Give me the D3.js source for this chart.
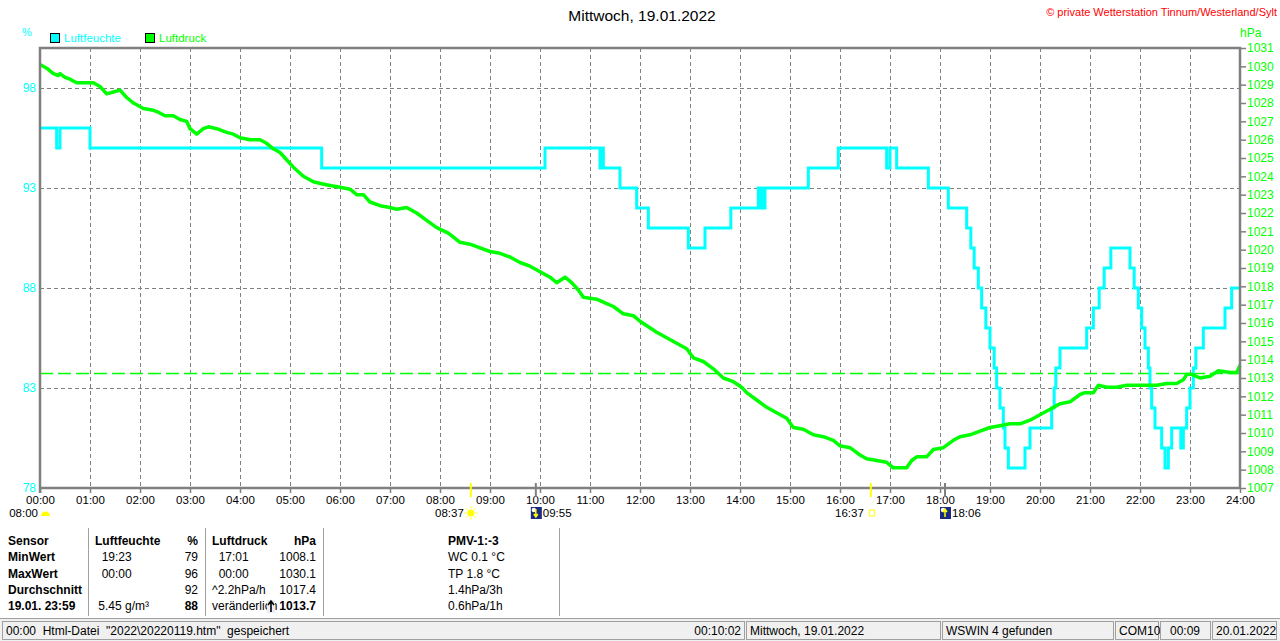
<!DOCTYPE html>
<html><head><meta charset="utf-8">
<script src="https://cdn.jsdelivr.net/npm/d3@7"></script>
<style>
body{margin:0;background:#fff;overflow:hidden}
svg{display:block;font-family:"Liberation Sans",Arial,sans-serif}
text{white-space:pre}
</style></head><body>
<svg width="1280" height="641"></svg>
<script>
// humidity (%) step series, time in minutes after midnight
const humTime = [0,20,24,60,338,606,672,674,676,696,716,730,778,798,829,862,864,866,868,870,922,958,1016,1020,1028,1066,1090,
  1112,1117,1121,1126,1130,1135,1140,1145,1148,1152,1156,1158,1162,1182,1188,1214,1217,1219,1224,1256,1264,1271,1277,1285,
  1308,1313,1318,1322,1326,1330,1332,1334,1338,1346,1350,1354,1358,1369,1372,1376,1380,1384,1387,1396,1422,1430,1440];
const humVal = [96,95,96,95,94,95,94,95,94,93,92,91,90,91,92,93,92,93,92,93,94,95,94,95,94,93,92,
  91,90,89,88,87,86,85,84,83,82,81,80,79,80,81,82,83,84,85,86,87,88,89,90,
  89,88,87,86,85,84,83,82,81,80,79,80,81,80,81,82,83,84,85,86,87,88,88];

// air pressure (hPa)
const presTime = [0,8,16,22,24,30,36,44,58,64,72,80,88,96,104,112,116,124,136,142,150,160,168,176,180,188,196,202,212,224,232,240,
  252,264,272,280,288,294,304,316,328,338,348,360,372,380,388,396,408,420,428,440,452,464,476,490,504,516,528,540,552,564,576,588,
  600,612,620,630,638,646,652,668,678,688,700,712,720,730,740,752,764,776,784,796,808,820,832,842,848,860,872,884,896,904,916,928,
  940,952,960,972,984,992,1004,1016,1024,1032,1040,1046,1052,1064,1072,1084,1096,1104,1116,1128,1140,1152,1164,1176,1188,1200,
  1212,1224,1236,1248,1254,1264,1270,1280,1292,1304,1316,1328,1340,1352,1364,1372,1376,1382,1392,1404,1414,1428,1436,1440];
const presVal = [1030.1,1029.9,1029.6,1029.5,1029.6,1029.4,1029.3,1029.1,1029.1,1029.1,1028.9,1028.5,1028.6,1028.7,1028.3,1028.0,
  1027.9,1027.7,1027.6,1027.5,1027.3,1027.3,1027.1,1027.0,1026.6,1026.3,1026.6,1026.7,1026.6,1026.4,1026.3,1026.1,
  1026.0,1026.0,1025.8,1025.5,1025.3,1025.0,1024.5,1024.0,1023.7,1023.6,1023.5,1023.4,1023.3,1023.0,1023.0,1022.6,1022.4,1022.3,
  1022.2,1022.3,1022.0,1021.6,1021.2,1020.9,1020.4,1020.3,1020.1,1019.9,1019.8,1019.6,1019.3,1019.1,
  1018.8,1018.5,1018.2,1018.5,1018.2,1017.8,1017.4,1017.3,1017.1,1016.9,1016.5,1016.4,1016.1,1015.8,1015.5,1015.2,1014.9,1014.6,
  1014.1,1013.9,1013.5,1013.0,1012.8,1012.5,1012.2,1011.8,1011.4,1011.1,1010.8,1010.3,1010.2,1009.9,
  1009.8,1009.6,1009.3,1009.2,1008.8,1008.6,1008.5,1008.4,1008.1,1008.1,1008.1,1008.5,1008.7,1008.7,1009.1,1009.2,1009.6,1009.8,
  1009.9,1010.1,1010.3,1010.4,1010.5,1010.5,1010.7,1011.0,
  1011.3,1011.6,1011.7,1012.1,1012.2,1012.2,1012.6,1012.5,1012.5,1012.6,1012.6,1012.6,1012.6,1012.7,1012.7,1012.9,1013.2,1013.2,
  1013.0,1013.1,1013.4,1013.3,1013.3,1013.7];
const presRef = 1013.25;

const humTicks = [78,83,88,93,98];
const presTicks = d3.range(1007,1032);
const hourTicks = d3.range(0,1441,60);

// astro events along the time axis
const evTime = [0,517,595,997,1086];
const evLabel = ["08:00","08:37","09:55","16:37","18:06"];
const evKind = ["dawn","sunrise","moonset","sunset","moonrise"];

// summary table
const tabCol1 = ["Sensor","MinWert","MaxWert","Durchschnitt","19.01. 23:59"];
const tabHumL = ["Luftfeuchte","  19:23","  00:00",""," 5.45 g/m³"];
const tabHumR = ["%","79","96","92","88"];
const tabPresL = ["Luftdruck","  17:01","  00:00","^2.2hPa/h","veränderlich"];
const tabPresR = ["hPa","1008.1","1030.1","1017.4","1013.7"];
const tabPmv = ["PMV-1:-3","WC 0.1 °C","TP 1.8 °C","1.4hPa/3h","0.6hPa/1h"];

// status bar
const statusText = ['00:00  Html-Datei  "2022\\20220119.htm"  gespeichert', "Mittwoch, 19.01.2022", "WSWIN 4 gefunden", "COM10", "00:09", "20.01.2022"];
const statusEdge = [2, 746, 942, 1115, 1160, 1212, 1278];

const svg = d3.select("svg");
const L = 40, R = 1240, T = 48, B = 488;
const grid = "#808080", cyan = "#00ffff", green = "#00ff00";

const x = d3.scaleLinear().domain([0,1440]).range([L,R]);
const yH = d3.scaleLinear().domain([78,100]).range([B,T]);
const yP = d3.scaleLinear().domain([1007,1031]).range([B,T]);
const hhmm = m => d3.format("02")(Math.floor(m/60)) + ":" + d3.format("02")(m%60);

// header texts
svg.append("text").attr("x",642).attr("y",21).attr("text-anchor","middle")
  .attr("font-size",15.5).text("Mittwoch, 19.01.2022");
svg.append("text").attr("x",1277).attr("y",16).attr("text-anchor","end").attr("fill","#ff0000")
  .attr("font-size",11).text("© private Wetterstation Tinnum/Westerland/Sylt");
svg.append("text").attr("x",22).attr("y",36).attr("fill",cyan).attr("font-size",11).text("%");
svg.append("text").attr("x",1240).attr("y",37).attr("fill",green).attr("font-size",12).text("hPa");

let leg = svg.append("g");
[["Luftfeuchte",cyan,50],["Luftdruck",green,145]].forEach(d=>{
  leg.append("rect").attr("x",d[2]+0.5).attr("y",33.5).attr("width",9).attr("height",9)
    .attr("fill",d[1]).attr("stroke","#000");
  leg.append("text").attr("x",d[2]+14).attr("y",42).attr("fill",d[1]).attr("font-size",11.5).text(d[0]);
});

// grid
let gGrid = svg.append("g").attr("stroke",grid).attr("stroke-dasharray","4,3");
gGrid.selectAll("line.v").data(hourTicks.slice(1,-1)).enter().append("line")
  .attr("x1",d=>x(d)+0.5).attr("x2",d=>x(d)+0.5).attr("y1",T).attr("y2",B);
gGrid.selectAll("line.h").data(humTicks.slice(1)).enter().append("line")
  .attr("x1",L).attr("x2",R).attr("y1",d=>yH(d)+0.5).attr("y2",d=>yH(d)+0.5);

// reference pressure
svg.append("line").attr("x1",L).attr("x2",R).attr("y1",yP(presRef)).attr("y2",yP(presRef))
  .attr("stroke",green).attr("stroke-width",1.5).attr("stroke-dasharray","13,5");

// series
const hum = humTime.map((t,i)=>[t,humVal[i]]);
const pres = presTime.map((t,i)=>[t,presVal[i]]);
svg.append("path").datum(hum).attr("fill","none").attr("stroke",cyan).attr("stroke-width",3)
  .attr("d", d3.line().x(d=>x(d[0])).y(d=>yH(d[1])).curve(d3.curveStepAfter));
svg.append("path").datum(pres).attr("fill","none").attr("stroke",green).attr("stroke-width",3.5)
  .attr("stroke-linejoin","round")
  .attr("d", d3.line().x(d=>x(d[0])).y(d=>yP(d[1])));

// frame
svg.append("path").attr("fill","none").attr("stroke",grid).attr("stroke-width",2.5)
  .attr("d",`M${L},${B+5}V${T}H${R}V${B}H${L}`);

// axes
let ax = svg.append("g").attr("transform",`translate(0,${B})`)
  .call(d3.axisBottom(x).tickValues(hourTicks).tickFormat(hhmm).tickSize(5).tickPadding(3));
ax.select(".domain").remove();
ax.selectAll("line").attr("stroke",grid).attr("stroke-width",1.5);
ax.selectAll("text").attr("font-size",11.5).attr("fill","#000").attr("font-family",null);

let ar = svg.append("g").attr("transform",`translate(${R+1},0)`)
  .call(d3.axisRight(yP).tickValues(presTicks).tickFormat(d3.format("d")).tickSize(5).tickPadding(1));
ar.select(".domain").remove();
ar.selectAll("line").attr("stroke",grid).attr("stroke-width",1.5);
ar.selectAll("text").attr("font-size",12).attr("fill",green).attr("font-family",null);

let al = svg.append("g").attr("transform",`translate(${L-3},0)`)
  .call(d3.axisLeft(yH).tickValues(humTicks).tickSize(0).tickPadding(1));
al.select(".domain").remove();
al.selectAll("text").attr("font-size",12).attr("fill",cyan).attr("font-family",null);

// astro events
let ev = svg.append("g");
evTime.forEach((t,i)=>{
  const k = evKind[i], px = x(t);
  if (k !== "dawn") {
    ev.append("line").attr("x1",px).attr("x2",px).attr("y1",483).attr("y2",497)
      .attr("stroke", k.startsWith("moon") ? grid : "#ffff00").attr("stroke-width",2);
  }
  const left = (k === "moonset" || k === "moonrise");
  const g = ev.append("g").attr("transform",`translate(${px},513)`);
  if (k === "dawn") {
    g.append("path").attr("d","M1,3A4.5,4.5 0 0 1 10,3Z").attr("fill","#ffff00");
  } else if (k === "sunrise") {
    g.append("circle").attr("r",3.5).attr("fill","#ffff00");
    d3.range(8).forEach(j=>{
      const a = j*Math.PI/4;
      g.append("line").attr("x1",4.5*Math.cos(a)).attr("y1",4.5*Math.sin(a))
        .attr("x2",6.5*Math.cos(a)).attr("y2",6.5*Math.sin(a)).attr("stroke","#ffff00");
    });
  } else if (k === "sunset") {
    g.append("rect").attr("x",-1.5).attr("y",-3).attr("width",5).attr("height",6)
      .attr("fill","none").attr("stroke","#ffff00");
  } else {
    g.append("rect").attr("x",-5).attr("y",-6).attr("width",11).attr("height",12).attr("fill","#1a2a80");
    g.append("circle").attr("cx",-2).attr("cy",-3).attr("r",2.2).attr("fill","#fff");
    const dir = k === "moonset" ? 1 : -1;
    g.append("path").attr("d",`M0,${-4*dir}V${3*dir}M-2,${1*dir}L0,${4*dir}L2,${1*dir}`)
      .attr("stroke","#ffff00").attr("stroke-width",1.5).attr("fill","none");
  }
  const tx = k === "dawn" ? px-2 : (left ? px+7 : px-7);
  ev.append("text").attr("x",tx).attr("y",517).attr("font-size",11.5)
    .attr("text-anchor", left ? "start" : "end").text(evLabel[i]);
});

// summary table
const rowY = [545,561,578,594,610];
let tb = svg.append("g").attr("font-size",12);
function col(arr, xx, anchor, boldRows) {
  arr.forEach((s,i)=>{
    tb.append("text").attr("x",xx).attr("y",rowY[i]).attr("text-anchor",anchor)
      .attr("font-weight", boldRows.includes(i) ? "bold" : null).text(s);
  });
}
col(tabCol1, 8, "start", [0,1,2,3,4]);
col(tabHumL, 95, "start", [0]);
col(tabHumR, 198, "end", [0,4]);
col(tabPresL, 212, "start", [0]);
col(tabPresR, 316, "end", [0,4]);
col(tabPmv, 448, "start", [0]);
tb.append("rect").attr("x",267).attr("y",600).attr("width",8).attr("height",13).attr("fill","#e8eef4");
tb.append("path").attr("d","M271,612V602M268,605L271,601L274,605").attr("stroke","#000")
  .attr("stroke-width",1.6).attr("fill","none");
[88,205,323,559].forEach(sx=>{
  tb.append("line").attr("x1",sx+0.5).attr("x2",sx+0.5).attr("y1",528).attr("y2",616).attr("stroke","#a0a0a0");
  tb.append("line").attr("x1",sx+1.5).attr("x2",sx+1.5).attr("y1",528).attr("y2",616).attr("stroke","#fff");
});

// status bar
svg.append("rect").attr("x",0).attr("y",618).attr("width",1280).attr("height",23).attr("fill","#f0f0f0");
svg.append("line").attr("x1",0).attr("x2",1280).attr("y1",618.5).attr("y2",618.5).attr("stroke","#a0a0a0");
let sb = svg.append("g").attr("font-size",12);
statusText.forEach((s,i)=>{
  const x0 = statusEdge[i], x1 = statusEdge[i+1]-2;
  sb.append("rect").attr("x",x0+0.5).attr("y",621.5).attr("width",x1-x0).attr("height",18)
    .attr("fill","none").attr("stroke","#a0a0a0");
  const cx = i === 4 ? (x0+x1)/2 : x0+4;
  sb.append("text").attr("x",cx).attr("y",635).attr("text-anchor", i===4 ? "middle" : "start").text(s);
});
sb.append("text").attr("x",741).attr("y",635).attr("text-anchor","end").text("00:10:02");
</script>
</body></html>
